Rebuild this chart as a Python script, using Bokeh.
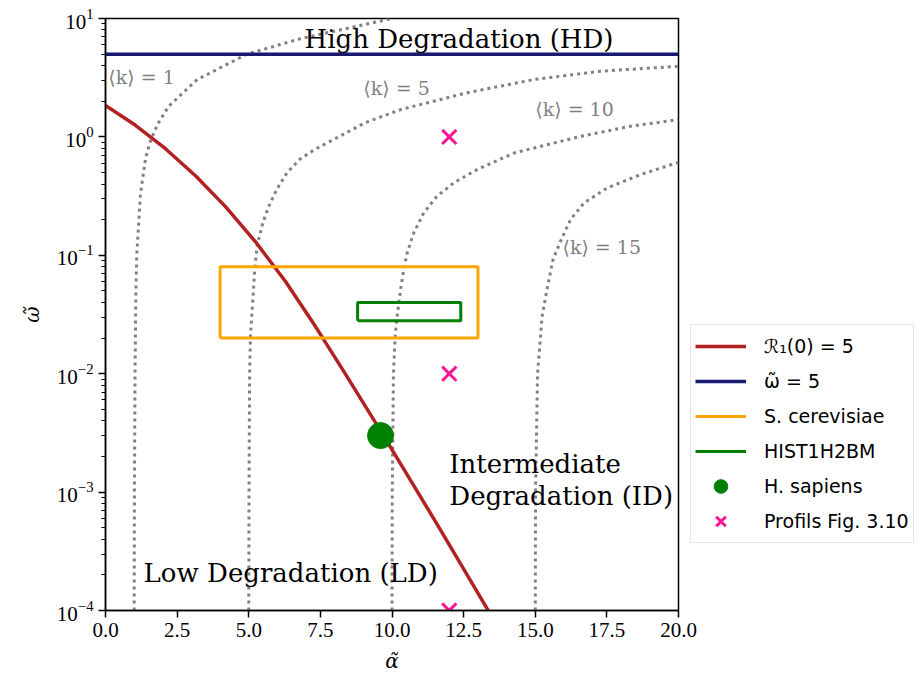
from bokeh.plotting import figure
from bokeh.models import (Range1d, FixedTicker, PrintfTickFormatter, Legend,
                          LegendItem, Label, LogTickFormatter)
from bokeh.embed import file_html
from bokeh.resources import INLINE

# ---------------- data ----------------
red_alpha = [0.0, 1.047, 2.094, 3.141, 4.188, 5.236, 6.283, 7.33, 8.377, 9.424, 10.47, 11.52, 12.565, 13.44]
red_omega = [1.84, 1.253, 0.795, 0.470, 0.2576, 0.130, 0.0600, 0.0250, 0.00993, 0.00386, 0.00148, 5.63e-4, 2.11e-4, 9.25e-5]

hd_alpha = [0.0, 20.0]
hd_omega = [5.0, 5.0]

k1_alpha = [1.0, 1.01, 1.03, 1.06, 1.09, 1.22, 1.40, 1.59, 1.86, 2.21, 3.2, 4.94, 6.8, 10.0]
k1_omega = [1e-4, 1e-3, 0.01, 0.05, 0.1, 0.33, 0.665, 0.96, 1.33, 1.82, 3.05, 5.0, 6.75, 10.0]

k5_alpha = [5.0, 5.01, 5.03, 5.06, 5.21, 5.29, 5.49, 5.7, 5.99, 6.34, 6.78, 7.3, 7.96, 9.07, 10.3, 12.62, 14.95, 17.28, 20.0]
k5_omega = [1e-4, 1e-3, 0.01, 0.0208, 0.076, 0.12, 0.188, 0.26, 0.365, 0.50, 0.646, 0.783, 0.95, 1.32, 1.70, 2.36, 3.05, 3.59, 3.95]

k10_alpha = [10.0, 10.01, 10.05, 10.11, 10.18, 10.3, 10.41, 10.53, 10.76, 11.11, 11.57, 12.16, 12.97, 14.25, 16.58, 18.32, 20.0]
k10_omega = [1e-4, 1e-3, 0.01, 0.0208, 0.0306, 0.0514, 0.076, 0.105, 0.155, 0.229, 0.315, 0.41, 0.53, 0.73, 1.01, 1.23, 1.40]

k15_alpha = [15.0, 15.01, 15.08, 15.24, 15.41, 15.62, 15.88, 16.23, 16.7, 17.51, 18.67, 20.0]
k15_omega = [1e-4, 1e-3, 0.01, 0.0306, 0.0514, 0.092, 0.131, 0.20, 0.277, 0.37, 0.48, 0.61]

cer_alpha = [4.0, 13.0]      # S. cerevisiae box
cer_omega = [0.02, 0.08]
hist_alpha = [8.8, 12.4]     # HIST1H2BM box
hist_omega = [0.028, 0.04]

hs_alpha = [9.6]             # H. sapiens
hs_omega = [0.003]

prof_alpha = [12.0, 12.0, 12.0]   # Profils Fig. 3.10
prof_omega = [1.0, 0.01, 1e-4]

x_ticks = [0.0, 2.5, 5.0, 7.5, 10.0, 12.5, 15.0, 17.5, 20.0]
y_ticks = [1e-4, 1e-3, 1e-2, 1e-1, 1e0, 1e1]
y_minor = [m * d for d in y_ticks[:-1] for m in range(2, 10)]

legend_labels = ["ℛ₁(0) = 5", "ω̃ = 5", "S. cerevisiae", "HIST1H2BM", "H. sapiens", "Profils Fig. 3.10"]


def box_path(a, w):
    return [a[0], a[1], a[1], a[0], a[0]], [w[0], w[0], w[1], w[1], w[0]]


# ---------------- figure ----------------
p = figure(frame_width=573, frame_height=592,
           x_range=Range1d(0, 20), y_range=Range1d(1e-4, 10),
           y_axis_type="log", output_backend="svg", toolbar_location=None,
           min_border_left=105, min_border_right=238, min_border_top=18, min_border_bottom=64)
p.grid.visible = False
p.outline_line_color = "black"
p.outline_line_width = 1.5
p.background_fill_color = "white"
p.border_fill_color = "white"

dot_style = dict(line_color="#808080", line_width=3, line_dash="3 4")
for xs, ys in [(k1_alpha, k1_omega), (k5_alpha, k5_omega), (k10_alpha, k10_omega), (k15_alpha, k15_omega)]:
    p.line(xs, ys, **dot_style)

r_red = p.line(red_alpha, red_omega, line_color="#b22222", line_width=3.5)
r_blue = p.line(hd_alpha, hd_omega, line_color="#191970", line_width=3.5)
bx, by = box_path(cer_alpha, cer_omega)
r_cer = p.line(bx, by, line_color="#ffa500", line_width=3)
hx, hy = box_path(hist_alpha, hist_omega)
r_hist = p.line(hx, hy, line_color="#008000", line_width=3)
r_hs = p.scatter(hs_alpha, hs_omega, marker="circle", size=26, fill_color="#008000", line_color="#008000")
r_prof = p.scatter(prof_alpha, prof_omega, marker="x", size=20, line_color="#ff1493", line_width=3)

# axes
p.xaxis.ticker = FixedTicker(ticks=x_ticks)
p.xaxis.formatter = PrintfTickFormatter(format="%.1f")
p.xaxis.minor_tick_line_color = None
p.yaxis.ticker = FixedTicker(ticks=y_ticks, minor_ticks=y_minor)
p.yaxis.formatter = LogTickFormatter()
for ax in (p.xaxis, p.yaxis):
    ax.axis_line_width = 1.5
    ax.major_tick_line_width = 1.5
    ax.major_tick_in = 0
    ax.major_tick_out = 7
    ax.minor_tick_in = 0
    ax.minor_tick_out = 4
    ax.major_label_text_font = "Liberation Serif"
    ax.major_label_text_font_size = "21px"
    ax.major_label_text_color = "black"
    ax.axis_label_text_font = "DejaVu Serif"
    ax.axis_label_text_font_size = "20px"
    ax.axis_label_text_font_style = "italic"
    ax.axis_label_text_color = "black"
p.xaxis.axis_label = "α̃"
p.yaxis.axis_label = "ω̃"
p.xaxis.axis_label_standoff = 9
p.yaxis.axis_label_standoff = 10

# annotations
big = dict(text_font="DejaVu Serif", text_font_size="26px", text_color="black",
           text_baseline="alphabetic", text_align="left")
p.add_layout(Label(x=6.95, y=6.65, text="High Degradation (HD)", **big))
p.add_layout(Label(x=12.0, y=1.72e-3, text="Intermediate", **big))
p.add_layout(Label(x=12.0, y=9.3e-4, text="Degradation (ID)", **big))
p.add_layout(Label(x=1.33, y=2.06e-4, text="Low Degradation (LD)", **big))

kst = dict(text_font="DejaVu Serif", text_font_size="19px", text_color="#808080",
           text_baseline="alphabetic", text_align="left")
p.add_layout(Label(x=0.1, y=3.18, text="⟨k⟩ = 1", **kst))
p.add_layout(Label(x=9.0, y=2.59, text="⟨k⟩ = 5", **kst))
p.add_layout(Label(x=15.0, y=1.72, text="⟨k⟩ = 10", **kst))
p.add_layout(Label(x=15.95, y=0.117, text="⟨k⟩ = 15", **kst))

renderers = [r_red, r_blue, r_cer, r_hist, r_hs, r_prof]
legend = Legend(items=[LegendItem(label=l, renderers=[r]) for l, r in zip(legend_labels, renderers)],
                location=(12, 67), glyph_width=51, glyph_height=34, label_height=34,
                spacing=1, padding=4, label_standoff=18,
                label_text_font="DejaVu Sans", label_text_font_size="19px",
                label_text_color="black",
                border_line_color="#cccccc", border_line_width=1.5,
                background_fill_color="white", background_fill_alpha=1.0)
p.add_layout(legend, "right")

open("out.html", "w").write(file_html(p, INLINE))
